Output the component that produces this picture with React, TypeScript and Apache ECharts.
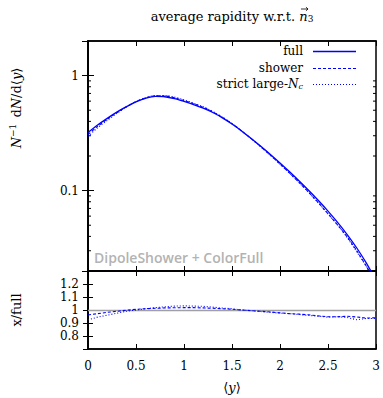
import React, { useEffect, useRef } from "react";
import * as echarts from "echarts";

const xVals = [0, 0.1, 0.2, 0.3, 0.4, 0.5, 0.6, 0.7, 0.8, 0.9, 1.0, 1.1, 1.2, 1.3, 1.4, 1.5, 1.6, 1.7, 1.8, 1.9, 2.0, 2.1, 2.2, 2.3, 2.4, 2.5, 2.6, 2.7, 2.8, 2.9, 3.0];
const fullVals = [0.32, 0.372, 0.425, 0.481, 0.537, 0.592, 0.634, 0.659, 0.655, 0.631, 0.596, 0.56, 0.521, 0.4775, 0.4295, 0.3793, 0.3304, 0.2844, 0.2432, 0.2065, 0.1742, 0.1459, 0.1213, 0.1002, 0.082, 0.0664, 0.053, 0.0415, 0.0317, 0.0234, 0.0166];
const showerRatio = [0.962, 0.972, 0.982, 0.99, 0.998, 1.005, 1.01, 1.013, 1.016, 1.017, 1.018, 1.018, 1.016, 1.013, 1.01, 1.006, 1.0, 0.995, 0.99, 0.985, 0.978, 0.972, 0.968, 0.963, 0.955, 0.948, 0.948, 0.952, 0.946, 0.938, 0.94];
const strictRatio = [0.925, 0.945, 0.96, 0.975, 0.99, 1.0, 1.01, 1.018, 1.025, 1.03, 1.032, 1.03, 1.028, 1.022, 1.015, 1.01, 1.0, 0.995, 0.988, 0.982, 0.976, 0.972, 0.965, 0.958, 0.952, 0.945, 0.948, 0.942, 0.925, 0.935, 0.935];
const minorLogTicks = [0.03, 0.04, 0.05, 0.06, 0.07, 0.08, 0.09, 0.2, 0.3, 0.4, 0.5, 0.6, 0.7, 0.8, 0.9];
const seriesNames = ["full", "shower", "strict large-Nc"];
const legendLabels = ["full", "shower", "strict large-{i|N}{c|c}"];

const SERIF = "'DejaVu Serif', serif";
const BLUE = "#0000ff";
const DASH: any[] = ["solid", [3, 2], [1, 2]];

function measure(text: string, font: string): number {
  const c = document.createElement("canvas").getContext("2d");
  if (!c) return text.length * 7;
  c.font = font;
  return c.measureText(text).width;
}

export default function App() {
  const ref = useRef<HTMLDivElement>(null);
  useEffect(() => {
    if (!ref.current) return;
    const chart = echarts.init(ref.current, undefined, { renderer: "svg" });
    const axisLine = { show: true, lineStyle: { color: "#000", width: 1.5 } };
    const tickIn = (len: number) => ({ show: true, inside: true, length: len, lineStyle: { color: "#000", width: 1 } });
    const labelStyle = { fontFamily: SERIF, fontSize: 12, color: "#000" };
    const pairs = (ys: number[]) => xVals.map((x, i) => [x, ys[i]]);
    const product = (r: number[]) => fullVals.map((v, i) => v * r[i]);

    // title pieces
    const prefix = "average rapidity w.r.t. ";
    const w1 = measure(prefix, "13px 'DejaVu Serif'");
    const wn = measure("n", "italic 13px 'DejaVu Serif'");
    const w3 = measure("3", "9px 'DejaVu Serif'");
    const tx = 232 - (w1 + wn + w3) / 2;
    const ty = 16;
    const cx = tx + w1 + wn / 2 + 1;
    const ay = ty - 7;

    // legend drawn as graphics
    const legendRows: any[] = [];
    seriesNames.forEach((_n, i) => {
      const y = 51 + i * 16.5;
      legendRows.push({
        type: "text", x: 303, y,
        style: {
          text: legendLabels[i], fontFamily: SERIF, fontSize: 12, fill: "#000", align: "right", verticalAlign: "middle",
          rich: {
            i: { fontFamily: SERIF, fontSize: 12, fontStyle: "italic", fill: "#000" },
            c: { fontFamily: SERIF, fontSize: 8, fontStyle: "italic", fill: "#000", padding: [5, 0, 0, 0] },
          },
        },
      });
      legendRows.push({
        type: "line", shape: { x1: 313, y1: Math.round(y) + 0.5, x2: 356, y2: Math.round(y) + 0.5 },
        style: { stroke: BLUE, lineWidth: i === 0 ? 1.3 : 1.1, lineDash: DASH[i] === "solid" ? null : DASH[i] },
      });
    });

    const option: any = {
      animation: false,
      grid: [
        { left: 88, top: 41, width: 288, height: 230, show: true, borderColor: "#000", borderWidth: 1.5, backgroundColor: "transparent" },
        { left: 88, top: 271, width: 288, height: 78, show: true, borderColor: "#000", borderWidth: 1.5, backgroundColor: "transparent" },
      ],
      xAxis: [
        { type: "value", gridIndex: 0, position: "bottom", min: 0, max: 3, interval: 0.5, axisLine, axisTick: tickIn(5), axisLabel: { show: false }, splitLine: { show: false } },
        { type: "value", gridIndex: 0, position: "top", min: 0, max: 3, interval: 0.5, axisLine, axisTick: tickIn(5), axisLabel: { show: false }, splitLine: { show: false } },
        { type: "value", gridIndex: 1, position: "bottom", min: 0, max: 3, interval: 0.5, axisLine, axisTick: tickIn(5), axisLabel: { ...labelStyle, margin: 11 }, splitLine: { show: false },
          name: "{a|⟨}{y|y}{a|⟩}", nameLocation: "middle", nameGap: 32,
          nameTextStyle: { fontFamily: SERIF, fontSize: 13, color: "#000", rich: { a: { fontFamily: SERIF, fontSize: 13, color: "#000" }, y: { fontFamily: SERIF, fontSize: 13, fontStyle: "italic", color: "#000" } } } },
        { type: "value", gridIndex: 1, position: "top", min: 0, max: 3, interval: 0.5, axisLine, axisTick: tickIn(5), axisLabel: { show: false }, splitLine: { show: false } },
      ],
      yAxis: [
        { type: "log", logBase: 10, gridIndex: 0, position: "left", min: 0.02, max: 2, axisLine, axisTick: tickIn(6),
          axisLabel: { ...labelStyle, margin: 9, showMinLabel: false, showMaxLabel: false, formatter: (v: number) => (Math.abs(v - 1) < 1e-9 ? "1" : Math.abs(v - 0.1) < 1e-9 ? "0.1" : "") },
          splitLine: { show: false } },
        { type: "log", logBase: 10, gridIndex: 0, position: "right", min: 0.02, max: 2, axisLine, axisTick: tickIn(6), axisLabel: { show: false }, splitLine: { show: false } },
        { type: "value", gridIndex: 1, position: "left", min: 0.7, max: 1.3, interval: 0.1, axisLine, axisTick: tickIn(5),
          axisLabel: { ...labelStyle, margin: 9, showMinLabel: false, showMaxLabel: false, formatter: (v: number) => String(Math.round(v * 10) / 10) },
          splitLine: { show: false } },
        { type: "value", gridIndex: 1, position: "right", min: 0.7, max: 1.3, interval: 0.1, axisLine, axisTick: tickIn(5), axisLabel: { show: false }, splitLine: { show: false } },
      ],
      graphic: [
        { type: "text", x: tx, y: ty, style: { text: prefix, fontFamily: SERIF, fontSize: 13, fill: "#000", verticalAlign: "middle" } },
        { type: "text", x: tx + w1, y: ty, style: { text: "n", fontFamily: SERIF, fontStyle: "italic", fontSize: 13, fill: "#000", verticalAlign: "middle" } },
        { type: "line", shape: { x1: cx - 3.5, y1: ay, x2: cx + 3.5, y2: ay }, style: { stroke: "#000", lineWidth: 0.8 } },
        { type: "polyline", shape: { points: [[cx + 1.5, ay - 1.8], [cx + 3.6, ay], [cx + 1.5, ay + 1.8]] }, style: { stroke: "#000", lineWidth: 0.8, fill: "none" } },
        { type: "text", x: tx + w1 + wn, y: ty + 3, style: { text: "3", fontFamily: SERIF, fontSize: 9, fill: "#000", verticalAlign: "middle" } },
        ...legendRows,
        {
          type: "text", left: 94, top: 250, z: 10,
          style: { text: "DipoleShower + ColorFull", fontFamily: "'Open Sans', sans-serif", fontWeight: 600, fontSize: 14, fill: "#b3b3b3" },
        },
        {
          type: "text", x: 16, y: 108, rotation: Math.PI / 2,
          style: {
            text: "{i|N}{s|−1} d{i|N}/d⟨{i|y}⟩", fontFamily: SERIF, fontSize: 13, fill: "#000", align: "center", verticalAlign: "middle",
            rich: {
              i: { fontFamily: SERIF, fontSize: 13, fontStyle: "italic", fill: "#000" },
              s: { fontFamily: SERIF, fontSize: 9, fill: "#000", padding: [0, 2, 7, 0] },
            },
          },
        },
        {
          type: "text", x: 16, y: 310, rotation: Math.PI / 2,
          style: { text: "x/full", fontFamily: SERIF, fontSize: 13, fill: "#000", align: "center", verticalAlign: "middle" },
        },
      ],
      series: [
        { name: seriesNames[0], type: "line", xAxisIndex: 0, yAxisIndex: 0, data: pairs(fullVals), smooth: 0.3, showSymbol: false, symbol: "none", lineStyle: { color: BLUE, width: 1.3, type: DASH[0] }, itemStyle: { color: BLUE }, z: 3 },
        { name: seriesNames[1], type: "line", xAxisIndex: 0, yAxisIndex: 0, data: pairs(product(showerRatio)), smooth: 0.3, showSymbol: false, symbol: "none", lineStyle: { color: BLUE, width: 1.1, type: DASH[1] }, itemStyle: { color: BLUE }, z: 3 },
        { name: seriesNames[2], type: "line", xAxisIndex: 0, yAxisIndex: 0, data: pairs(product(strictRatio)), smooth: 0.3, showSymbol: false, symbol: "none", lineStyle: { color: BLUE, width: 1.1, type: DASH[2] }, itemStyle: { color: BLUE }, z: 3 },
        {
          name: seriesNames[1], type: "line", xAxisIndex: 2, yAxisIndex: 2, data: pairs(showerRatio), showSymbol: false, symbol: "none", lineStyle: { color: BLUE, width: 1.1, type: DASH[1] }, itemStyle: { color: BLUE }, z: 3,
          markLine: { silent: true, symbol: "none", label: { show: false }, data: [{ yAxis: 1 }], lineStyle: { color: "#a0a0a0", type: "solid", width: 1.3 }, z: 2 },
        },
        { name: seriesNames[2], type: "line", xAxisIndex: 2, yAxisIndex: 2, data: pairs(strictRatio), showSymbol: false, symbol: "none", lineStyle: { color: BLUE, width: 1.1, type: DASH[2] }, itemStyle: { color: BLUE }, z: 3 },
        {
          type: "custom", xAxisIndex: 0, yAxisIndex: 0, silent: true, z: 5,
          data: minorLogTicks.map((v) => [0, v]),
          encode: { x: 0, y: 1 },
          renderItem: (params: any, api: any) => {
            const p = api.coord([0, api.value(1)]);
            const cs = params.coordSys;
            return {
              type: "group",
              children: [
                { type: "line", shape: { x1: cs.x, y1: p[1], x2: cs.x + 3, y2: p[1] }, style: { stroke: "#000", lineWidth: 1 } },
                { type: "line", shape: { x1: cs.x + cs.width - 3, y1: p[1], x2: cs.x + cs.width, y2: p[1] }, style: { stroke: "#000", lineWidth: 1 } },
              ],
            };
          },
        },
      ],
    };
    chart.setOption(option);
    return () => chart.dispose();
  }, []);
  return <div ref={ref} style={{ position: "absolute", left: 0, top: 0, width: 383, height: 398, background: "#fff" }} />;
}
